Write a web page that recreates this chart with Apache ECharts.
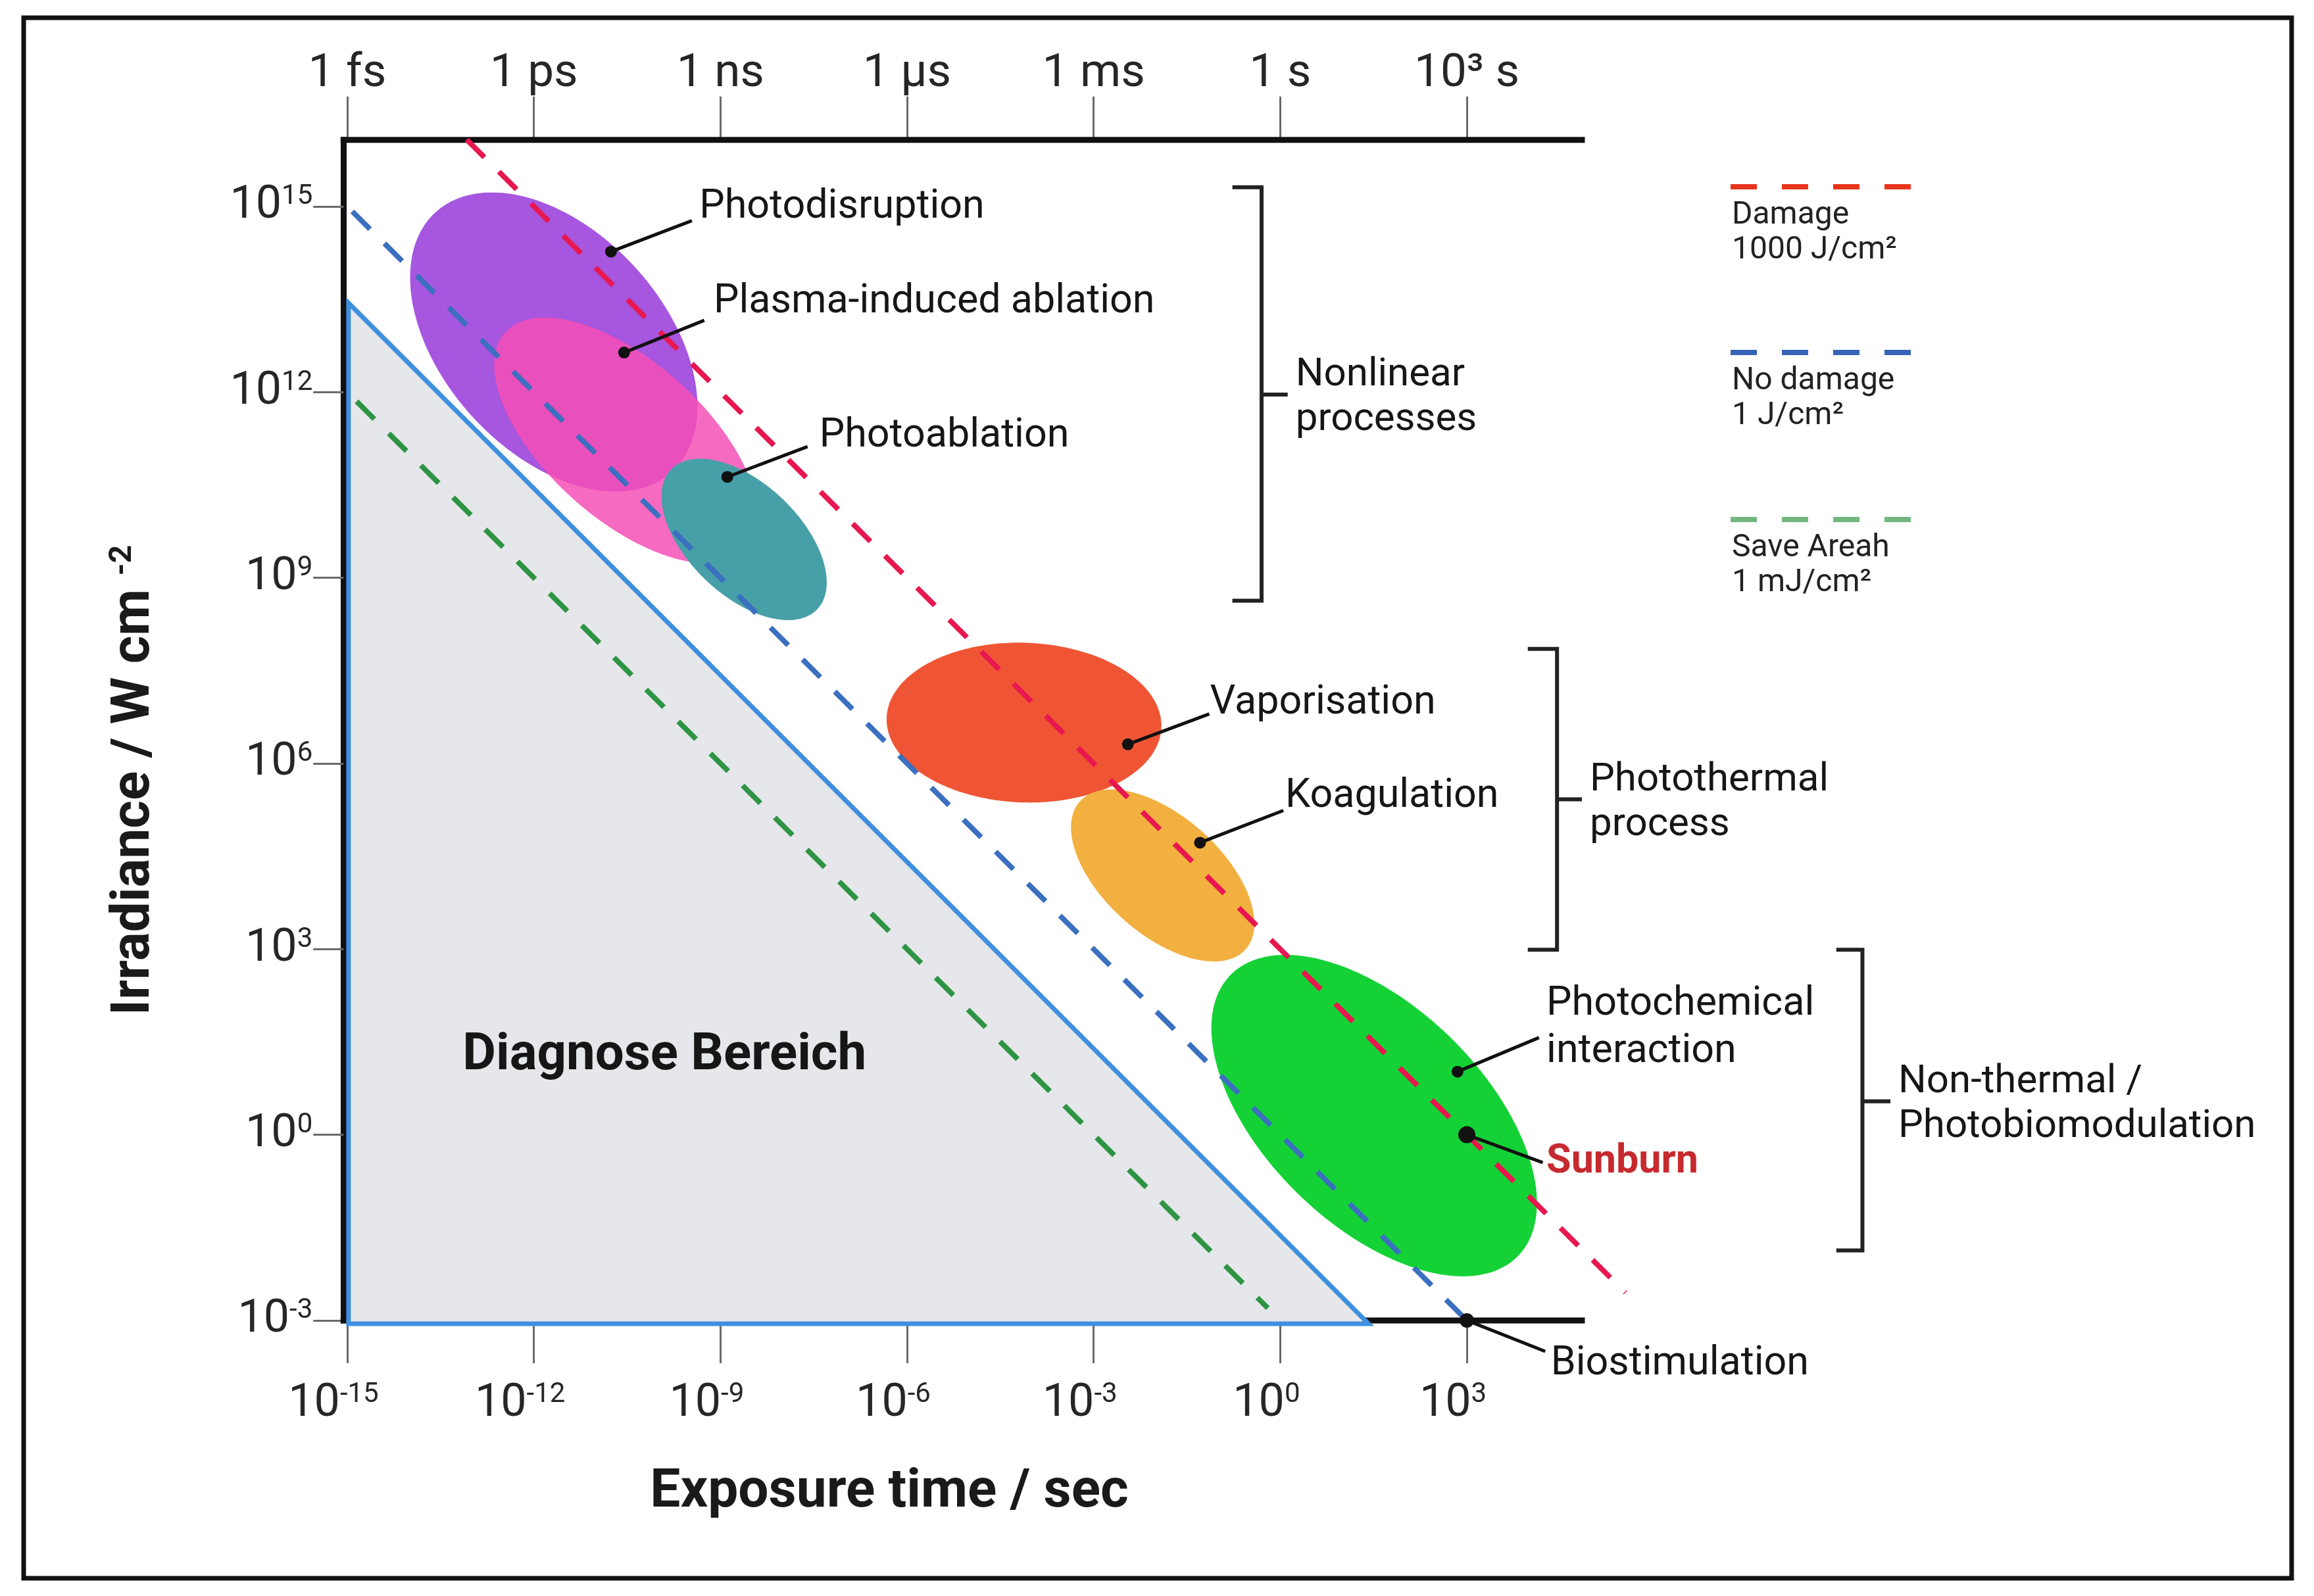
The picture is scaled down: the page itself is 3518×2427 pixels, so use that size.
<!DOCTYPE html>
<html>
<head>
<meta charset="utf-8">
<script src="https://cdn.jsdelivr.net/npm/echarts@6/dist/echarts.min.js"></script>
<style>
html,body{margin:0;padding:0;background:#ffffff;}
#chart{width:3518px;height:2427px;}
</style>
</head>
<body>
<div id="chart"></div>
<script>
// ===== DATA (all values are log10 exponents: exposure time in s, irradiance in W/cm²) =====
const xTickExponents = [-15, -12, -9, -6, -3, 0, 3];
const topTickLabels = ['1 fs', '1 ps', '1 ns', '1 µs', '1 ms', '1 s', '10³ s'];
const yTickExponents = [-3, 0, 3, 6, 9, 12, 15];
const axisEndT = 4.85;   // where the drawn top/bottom frame lines stop

// dose lines (start / end points)
const damageLine   = [[-13.08, 16.08], [5.55, -2.55]];   // 1000 J/cm²
const noDamageLine = [[-14.92, 14.92], [3.00, -3.00]];   // 1 J/cm²
const safeLine     = [[-14.85, 11.85], [-0.20, -2.80]];  // 1 mJ/cm²
const legendNames  = ['Damage', 'No damage', 'Save Areah'];
const legendDoses  = ['1000 J/cm²', '1 J/cm²', '1 mJ/cm²'];

// diagnostic region (grey triangle)
const diagnoseRegion  = [[-14.98, 13.44], [-14.98, -3.055], [1.42, -3.055]];
const diagnoseLabel   = 'Diagnose Bereich';
const diagnoseLabelAt = [-9.90, 1.27];

// interaction regions (ellipses in log-log space)
const ellipseNames   = ['Photodisruption', 'Plasma-induced ablation', 'Photoablation', 'Vaporisation', 'Koagulation', 'Photochemical interaction'];
const ellipseCenterT = [-11.68, -10.52, -8.62, -4.12, -1.89, 1.51];
const ellipseCenterI = [12.81, 11.22, 9.62, 6.66, 4.19, 0.31];
const ellipseMajor   = [2.83, 2.61, 1.63, 2.21, 1.79, 3.24];
const ellipseMinor   = [1.78, 1.27, 0.90, 1.29, 0.95, 1.76];
const ellipseTilt    = [48, 42, 44, 2, 42, 44.6];

// annotations: dot, leader end, text anchor
const annotationTexts = ['Photodisruption', 'Plasma-induced ablation', 'Photoablation', 'Vaporisation', 'Koagulation', 'Photochemical\ninteraction', 'Sunburn', 'Biostimulation'];
const annotationDotT  = [-10.76, -10.55, -8.89, -2.45, -1.29, 2.85, 3.00, 3.00];
const annotationDotI  = [14.27, 12.64, 10.63, 6.31, 4.72, 1.02, 0.00, -3.00];
const annotationEndT  = [-9.46, -9.26, -7.60, -1.14, 0.05, 4.16, 4.22, 4.26];
const annotationEndI  = [14.77, 13.16, 11.12, 6.80, 5.24, 1.57, -0.45, -3.50];
const annotationTextT = [-9.34, -9.11, -7.41, -1.13, 0.08, 4.28, 4.28, 4.35];
const annotationTextI = [14.98, 13.45, 11.28, 6.97, 5.46, 1.72, -0.45, -3.71];

// process brackets
const bracketLabels  = ['Nonlinear\nprocesses', 'Photothermal\nprocess', 'Non-thermal /\nPhotobiomodulation'];
const bracketTopI    = [15.31, 7.85, 2.99];
const bracketBottomI = [8.63, 2.99, -1.87];
const bracketMidI    = [11.96, 5.42, 0.54];
const bracketSpineT  = [-0.30, 4.45, 9.36];
const bracketSerifT  = [-0.77, 3.98, 8.94];
const bracketTickT   = [0.12, 4.85, 9.81];

// ===== STYLE =====
const FONT = 'Roboto';
const TXT = '#161616';
const ellipseColors = ['#a656df', 'rgba(246,78,182,0.84)', '#479fa7', '#ef5535', '#f2b041', '#14d236'];
const doseLineColors = ['#e8174f', '#3b6fc0', '#2e9444'];
const legendColors = ['#e8341c', '#3563b5', '#72b780'];
const legendIconCenters = [284, 536, 790];
const annotationStyle = [
  {r: 9, color: TXT, weight: 'normal'}, {r: 9, color: TXT, weight: 'normal'}, {r: 9, color: TXT, weight: 'normal'},
  {r: 9, color: TXT, weight: 'normal'}, {r: 9, color: TXT, weight: 'normal'}, {r: 9, color: TXT, weight: 'normal'},
  {r: 13, color: '#c62a2f', weight: 'bold'}, {r: 11, color: TXT, weight: 'normal'}
];

const X_MIN = -15.06, X_MAX = 5.6, Y_MIN = -3, Y_MAX = 16.075;
const PX_PER_DECADE_X = 94.56, PX_PER_DECADE_Y = 94.11;
const GRID_LEFT = 522.3, GRID_TOP = 212.8;
const GRID_W = (X_MAX - X_MIN) * PX_PER_DECADE_X;
const GRID_H = (Y_MAX - Y_MIN) * PX_PER_DECADE_Y;
const xTitleShift = 2 * ((GRID_LEFT + GRID_W / 2) - 1352);

const axisLineStyle = {color: '#111111', width: 9, cap: 'square'};
const tickStyle = {color: '#6a6a6a', width: 3};
const richNum = {
  b: {fontFamily: FONT, fontSize: 70, lineHeight: 70, color: '#262626'},
  s: {fontFamily: FONT, fontSize: 42, lineHeight: 42, verticalAlign: 'top', color: '#262626'}
};
const expFormatter = v => '{b|10}{s|' + Math.round(v) + '}';

// ===== SERIES =====
const frameSeries = {
  type: 'custom', name: 'frame', silent: true, clip: false, z: 1,
  data: [[X_MIN, Y_MAX, axisEndT, Y_MAX], [X_MIN, Y_MIN, axisEndT, Y_MIN]],
  renderItem: function (params, api) {
    const p0 = api.coord([api.value(0), api.value(1)]);
    const p1 = api.coord([api.value(2), api.value(3)]);
    return {type: 'line', shape: {x1: p0[0], y1: p0[1], x2: p1[0], y2: p1[1]}, style: {stroke: '#111111', lineWidth: 9, lineCap: 'square'}};
  }
};

const diagnoseSeries = {
  type: 'custom', name: diagnoseLabel, silent: true, clip: false, z: 1,
  data: diagnoseRegion,
  renderItem: function (params, api) {
    if (params.dataIndex !== 0) return null;
    const pts = diagnoseRegion.map(p => api.coord(p));
    const c = api.coord(diagnoseLabelAt);
    return {
      type: 'group',
      children: [
        {type: 'polygon', shape: {points: pts}, style: {fill: '#e5e7ea', stroke: '#3f8fdf', lineWidth: 7, lineJoin: 'miter'}},
        {type: 'text', x: c[0], y: c[1], style: {text: diagnoseLabel, fill: TXT, fontFamily: FONT, fontSize: 78, fontWeight: 'bold', align: 'center', verticalAlign: 'middle'}}
      ]
    };
  }
};

const ellipseSeries = {
  type: 'custom', name: 'regions', silent: true, clip: false, z: 2,
  data: ellipseNames.map((n, i) => ({name: n, value: [ellipseCenterT[i], ellipseCenterI[i], ellipseMajor[i], ellipseMinor[i], ellipseTilt[i]]})),
  renderItem: function (params, api) {
    const cT = api.value(0), cI = api.value(1), a = api.value(2), b = api.value(3);
    const th = api.value(4) * Math.PI / 180;
    const pts = [];
    const N = 200;
    for (let k = 0; k < N; k++) {
      const t = 2 * Math.PI * k / N;
      const u = a * Math.cos(t), v = b * Math.sin(t);
      pts.push(api.coord([cT + u * Math.cos(th) - v * Math.sin(th), cI - (u * Math.sin(th) + v * Math.cos(th))]));
    }
    return {type: 'polygon', shape: {points: pts}, style: {fill: ellipseColors[params.dataIndex]}};
  }
};

const doseData = [damageLine, noDamageLine, safeLine];
const doseSeries = legendNames.map((n, i) => ({
  type: 'line', name: n, data: doseData[i], symbol: 'none', clip: false, silent: true, z: 3,
  lineStyle: {color: doseLineColors[i], width: 8, type: [38, 31], cap: 'butt'},
  itemStyle: {color: doseLineColors[i]}
}));

const annotationSeries = {
  type: 'custom', name: 'annotations', silent: true, clip: false, z: 5,
  data: annotationTexts.map((t, i) => ({name: t, value: [annotationDotT[i], annotationDotI[i], annotationEndT[i], annotationEndI[i], annotationTextT[i], annotationTextI[i]]})),
  renderItem: function (params, api) {
    const i = params.dataIndex;
    const st = annotationStyle[i];
    const dot = api.coord([api.value(0), api.value(1)]);
    const end = api.coord([api.value(2), api.value(3)]);
    const tp = api.coord([api.value(4), api.value(5)]);
    return {
      type: 'group',
      children: [
        {type: 'line', shape: {x1: dot[0], y1: dot[1], x2: end[0], y2: end[1]}, style: {stroke: '#111111', lineWidth: 5}},
        {type: 'circle', shape: {cx: dot[0], cy: dot[1], r: st.r}, style: {fill: '#111111'}},
        {type: 'text', x: tp[0], y: tp[1], style: {text: annotationTexts[i], fill: st.color, fontFamily: FONT, fontSize: 61, fontWeight: st.weight, lineHeight: 72, align: 'left', verticalAlign: 'middle'}}
      ]
    };
  }
};

const bracketSeries = {
  type: 'custom', name: 'processes', silent: true, clip: false, z: 5,
  data: bracketLabels.map((t, i) => ({name: t, value: [bracketSpineT[i], bracketSerifT[i], bracketTickT[i], bracketTopI[i], bracketBottomI[i], bracketMidI[i]]})),
  renderItem: function (params, api) {
    const i = params.dataIndex;
    const spine = api.value(0), serif = api.value(1), tick = api.value(2);
    const top = api.value(3), bottom = api.value(4), mid = api.value(5);
    const p = [[serif, top], [spine, top], [spine, bottom], [serif, bottom]].map(q => api.coord(q));
    const m0 = api.coord([spine, mid]);
    const m1 = api.coord([tick, mid]);
    return {
      type: 'group',
      children: [
        {type: 'polyline', shape: {points: p}, style: {stroke: '#222222', lineWidth: 6, fill: null, lineJoin: 'miter'}},
        {type: 'line', shape: {x1: m0[0], y1: m0[1], x2: m1[0], y2: m1[1]}, style: {stroke: '#222222', lineWidth: 6}},
        {type: 'text', x: m1[0] + 12, y: m1[1] + 5, style: {text: bracketLabels[i], fill: TXT, fontFamily: FONT, fontSize: 60, lineHeight: 68, align: 'left', verticalAlign: 'middle'}}
      ]
    };
  }
};

// ===== OPTION =====
const option = {
  animation: false,
  backgroundColor: '#ffffff',
  textStyle: {fontFamily: FONT},
  grid: {left: GRID_LEFT, top: GRID_TOP, width: GRID_W, height: GRID_H, containLabel: false, outerBoundsMode: 'none'},
  legend: legendNames.map((n, i) => ({
    show: true, orient: 'vertical', left: 2627, top: legendIconCenters[i] - 123.5, padding: 0,
    selectedMode: false, itemWidth: 274, itemHeight: 8,
    data: [{
      name: n,
      lineStyle: {color: legendColors[i], width: 8, type: [40, 38]},
      itemStyle: {color: 'rgba(0,0,0,0)', borderWidth: 0, opacity: 0}
    }],
    formatter: name => '{g| }\n{t|' + name + '}\n{t|' + legendDoses[legendNames.indexOf(name)] + '}',
    textStyle: {
      padding: [0, 0, 0, -277], backgroundColor: 'rgba(255,255,255,0)',
      rich: {
        g: {fontFamily: FONT, fontSize: 10, lineHeight: 141},
        t: {fontFamily: FONT, fontSize: 48, lineHeight: 53, color: '#222222'}
      }
    }
  })),
  xAxis: [
    {
      type: 'value', position: 'bottom', min: X_MIN, max: X_MAX,
      axisLine: {show: false, onZero: false},
      axisTick: {show: true, customValues: xTickExponents, length: 65, lineStyle: tickStyle},
      axisLabel: {show: true, customValues: xTickExponents, margin: 93, formatter: expFormatter, rich: richNum, padding: [0, 42, 0, 0]},
      splitLine: {show: false},
      name: 'Exposure time / sec', nameLocation: 'middle', nameGap: 222,
      nameTextStyle: {fontFamily: FONT, fontSize: 82, fontWeight: 'bold', color: '#1a1a1a', padding: [0, xTitleShift, 0, 0]}
    },
    {
      type: 'value', position: 'top', min: X_MIN, max: X_MAX,
      axisLine: {show: false, onZero: false},
      axisTick: {show: true, customValues: xTickExponents, length: 66, lineStyle: tickStyle},
      axisLabel: {show: true, customValues: xTickExponents, margin: 64, fontFamily: FONT, fontSize: 71, color: '#262626',
        formatter: v => topTickLabels[xTickExponents.indexOf(Math.round(v))] || ''},
      splitLine: {show: false}
    }
  ],
  yAxis: {
    type: 'value', position: 'left', min: Y_MIN, max: Y_MAX,
    axisLine: {show: true, onZero: false, lineStyle: axisLineStyle},
    axisTick: {show: true, customValues: yTickExponents, length: 46, lineStyle: tickStyle},
    axisLabel: {show: true, customValues: yTickExponents, margin: 47, formatter: expFormatter, rich: richNum},
    splitLine: {show: false},
    name: '{t|Irradiance / W cm }{s|-2}', nameLocation: 'middle', nameRotate: 90, nameGap: 275,
    nameTextStyle: {
      padding: [0, 152, 0, 0],
      rich: {
        t: {fontFamily: FONT, fontSize: 82, lineHeight: 84, fontWeight: 'bold', color: '#1a1a1a'},
        s: {fontFamily: FONT, fontSize: 48, lineHeight: 48, fontWeight: 'bold', color: '#1a1a1a', verticalAlign: 'top'}
      }
    }
  },
  graphic: [
    {type: 'rect', silent: true, z: 100, shape: {x: 36, y: 27, width: 3448, height: 2373}, style: {fill: 'none', stroke: '#111111', lineWidth: 7}}
  ],
  series: [frameSeries, diagnoseSeries, ellipseSeries].concat(doseSeries, [annotationSeries, bracketSeries])
};

const chart = echarts.init(document.getElementById('chart'), null, {renderer: 'canvas', width: 3518, height: 2427});
chart.setOption(option);
</script>
</body>
</html>
